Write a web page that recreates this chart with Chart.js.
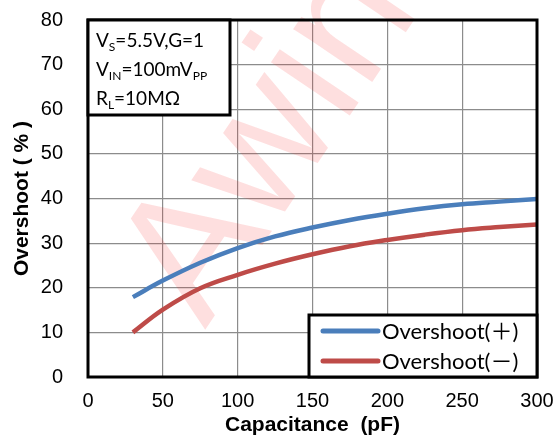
<!DOCTYPE html>
<html>
<head>
<meta charset="utf-8">
<script src="https://cdn.jsdelivr.net/npm/chart.js@4.4.1/dist/chart.umd.min.js"></script>
<style>
  html, body { margin: 0; padding: 0; background: #fff; }
  #wrap { width: 554px; height: 436px; }
</style>
</head>
<body>
<div id="wrap"><canvas id="chart"></canvas></div>
<script>
// capacitance (pF)
const capPlus  = [30, 50, 75, 100, 125, 150, 175, 200, 225, 250, 275, 300];
const overPlus = [17.9, 21.6, 25.6, 28.9, 31.5, 33.5, 35.2, 36.6, 37.8, 38.7, 39.3, 39.9];
const capMinus  = [30, 50, 75, 100, 125, 150, 175, 200, 225, 250, 275, 300];
const overMinus = [10.0, 15.1, 19.9, 22.9, 25.4, 27.5, 29.3, 30.7, 31.9, 32.9, 33.6, 34.2];
const seriesNames = ['Overshoot(\uFF0B)', 'Overshoot(\uFF0D)'];
const xTicks = [0, 50, 100, 150, 200, 250, 300];
const yTicks = [0, 10, 20, 30, 40, 50, 60, 70, 80];

const tickFont = { family: 'Liberation Sans', size: 20 };
const titleFont = { family: 'Liberation Sans', size: 21, weight: 'bold', lineHeight: 1 };
const boxFont = '22px Lato, "Noto Sans CJK SC"';

// watermark + frame + note box + legend
const extras = {
  id: 'extras',
  beforeDatasetsDraw(chart) {
    const ctx = chart.ctx;
    ctx.save();
    ctx.translate(205, 330);
    ctx.rotate(-56 * Math.PI / 180);
    ctx.fillStyle = 'rgba(245, 30, 30, 0.14)';
    ctx.font = '180px "Liberation Sans"';
    ctx.textAlign = 'left';
    ctx.textBaseline = 'alphabetic';
    ctx.fillText('Awinic', 0, 0);
    ctx.restore();
  },
  afterDraw(chart) {
    const ctx = chart.ctx;
    const a = chart.chartArea;
    ctx.save();
    ctx.strokeStyle = '#000';
    ctx.lineWidth = 3;
    ctx.strokeRect(a.left, a.top, a.right - a.left, a.bottom - a.top);

    // condition note
    ctx.fillStyle = '#fff';
    ctx.fillRect(a.left, a.top, 142, 95);
    ctx.strokeRect(a.left, a.top, 142, 95);
    ctx.fillStyle = '#000';
    ctx.textBaseline = 'alphabetic';
    const sub = (parts, x, y) => {
      parts.forEach(([t, s]) => {
        ctx.font = s ? '12px Lato' : '19px Lato';
        ctx.fillText(t, x, s ? y + 4 : y);
        x += ctx.measureText(t).width;
      });
    };
    sub([['V', 0], ['S', 1], ['=5.5V,G=1', 0]], a.left + 8, a.top + 27);
    sub([['V', 0], ['IN', 1], ['=100mV', 0], ['PP', 1]], a.left + 8, a.top + 56);
    sub([['R', 0], ['L', 1], ['=10M\u03A9', 0]], a.left + 8, a.top + 85);

    // legend
    const lx = 309, ly = 315, lw = a.right - 309, lh = a.bottom - 315;
    ctx.fillStyle = '#fff';
    ctx.fillRect(lx, ly, lw, lh);
    ctx.strokeRect(lx, ly, lw, lh);
    chart.data.datasets.forEach((ds, i) => {
      const y = ly + 16 + i * 30;
      ctx.strokeStyle = ds.borderColor;
      ctx.lineWidth = 5;
      ctx.lineCap = 'round';
      ctx.beginPath();
      ctx.moveTo(lx + 14, y);
      ctx.lineTo(lx + 69, y);
      ctx.stroke();
      ctx.fillStyle = '#000';
      ctx.font = boxFont;
      ctx.textBaseline = 'middle';
      ctx.fillText(ds.label, lx + 73, y + 1);
    });
    ctx.restore();
  }
};

new Chart(document.getElementById('chart'), {
  type: 'line',
  data: {
    datasets: [
      {
        label: seriesNames[0],
        data: capPlus.map((c, i) => ({ x: c, y: overPlus[i] })),
        borderColor: '#4a7ebb',
        borderWidth: 4.5,
        pointRadius: 0,
        tension: 0.4
      },
      {
        label: seriesNames[1],
        data: capMinus.map((c, i) => ({ x: c, y: overMinus[i] })),
        borderColor: '#be4b48',
        borderWidth: 4.5,
        pointRadius: 0,
        tension: 0.4
      }
    ]
  },
  options: {
    responsive: true,
    maintainAspectRatio: false,
    animation: false,
    layout: { padding: { top: 20, right: 17, left: 0, bottom: 0 } },
    plugins: { legend: { display: false }, tooltip: { enabled: false } },
    scales: {
      x: {
        type: 'linear',
        min: 0, max: 300,
        afterBuildTicks: s => { s.ticks = xTicks.map(v => ({ value: v })); },
        afterFit: s => { s.height = 59; s.paddingLeft = 0; s.paddingRight = 0; },
        grid: { color: '#8c8c8c', lineWidth: 1.2, drawTicks: false },
        border: { display: false },
        ticks: { font: tickFont, color: '#000', padding: 12, maxRotation: 0 },
        title: { display: true, text: 'Capacitance  (pF)', color: '#000',
                 font: titleFont, padding: 0 }
      },
      y: {
        min: 0, max: 80,
        afterBuildTicks: s => { s.ticks = yTicks.map(v => ({ value: v })); },
        afterFit: s => { s.width = 88; s.paddingTop = 0; s.paddingBottom = 0; },
        grid: { color: '#8c8c8c', lineWidth: 1.2, drawTicks: false },
        border: { display: false },
        ticks: { font: tickFont, color: '#000', padding: 25 },
        title: { display: true, text: 'Overshoot ( % )', color: '#000',
                 font: titleFont, padding: { top: 12, bottom: 0 } }
      }
    }
  },
  plugins: [extras]
});
</script>
</body>
</html>
